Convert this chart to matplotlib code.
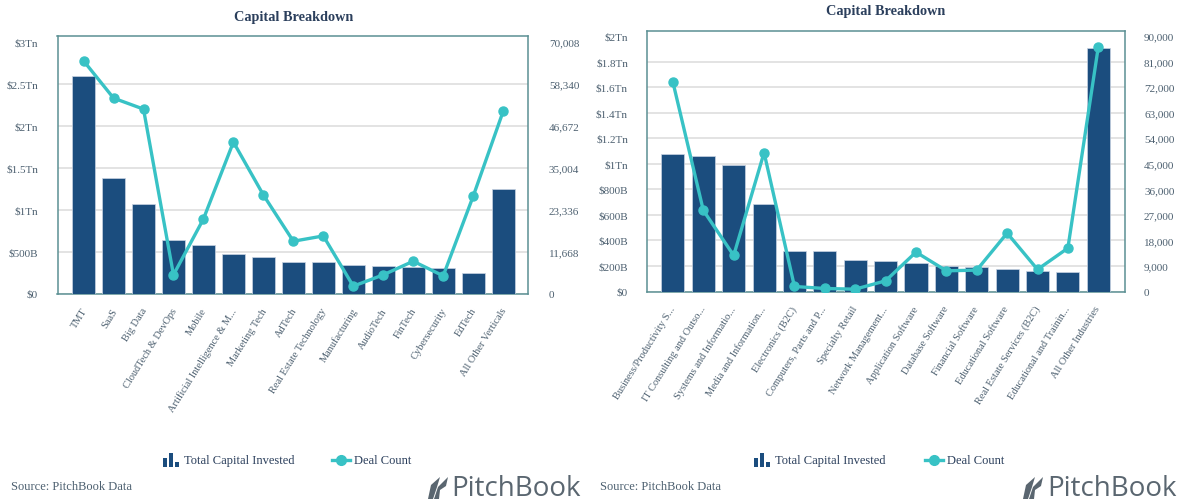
import matplotlib
matplotlib.use("Agg")
import matplotlib.pyplot as plt
from matplotlib.lines import Line2D
from matplotlib.patches import Polygon, Rectangle
from matplotlib.ticker import FixedLocator
from matplotlib.transforms import ScaledTranslation

W, H = 1178, 502

NAVY = "#1b4d7e"
TEAL = "#38c2c5"
FRAME = "#5b9093"
GRID = "#e0e0e0"
TITLE_COL = "#2b3f5c"
TICK_COL = "#4d6070"
LOGO_COL = "#5a6670"

# left chart
left_cats = ["TMT", "SaaS", "Big Data", "CloudTech & DevOps", "Mobile",
             "Artificial Intelligence & M...", "Marketing Tech", "AdTech",
             "Real Estate Technology", "Manufacturing", "AudioTech", "FinTech",
             "Cybersecurity", "EdTech", "All Other Verticals"]
left_capital = [2.595, 1.377, 1.063, 0.635, 0.583, 0.472, 0.432, 0.381,
                0.381, 0.341, 0.329, 0.313, 0.305, 0.25, 1.246]
left_deals = [64730, 54360, 51300, 5190, 20740, 42135, 27410, 14540,
              16020, 2040, 5190, 8980, 4910, 27040, 50650]
left_ticks = [0, 0.5, 1, 1.5, 2, 2.5, 3]
left_tick_labels = ["$0", "$500B", "$1Tn", "$1.5Tn", "$2Tn", "$2.5Tn", "$3Tn"]
left_deal_ticks = [0, 11668, 23336, 35004, 46672, 58340, 70008]

# right chart
right_cats = ["Business/Productivity S...", "IT Consulting and Outso...",
              "Systems and Informatio...", "Media and Information...",
              "Electronics (B2C)", "Computers, Parts and P...", "Specialty Retail",
              "Network Management...", "Application Software", "Database Software",
              "Financial Software", "Educational Software",
              "Real Estate Services (B2C)", "Educational and Trainin...",
              "All Other Industries"]
right_capital = [1.077, 1.059, 0.988, 0.682, 0.316, 0.316, 0.248, 0.235,
                 0.22, 0.2, 0.193, 0.175, 0.16, 0.149, 1.903]
right_deals = [73765, 28590, 12700, 48940, 1765, 1060, 825, 3765,
               13880, 7290, 7530, 20590, 7765, 15290, 86120]
right_ticks = [0, 0.2, 0.4, 0.6, 0.8, 1, 1.2, 1.4, 1.6, 1.8, 2]
right_tick_labels = ["$0", "$200B", "$400B", "$600B", "$800B", "$1Tn",
                     "$1.2Tn", "$1.4Tn", "$1.6Tn", "$1.8Tn", "$2Tn"]
right_deal_ticks = [0, 9000, 18000, 27000, 36000, 45000, 54000, 63000, 72000, 81000, 90000]

plt.rcParams["font.family"] = ["Liberation Serif", "DejaVu Serif"]


def fx(x):
    return x / W


def fy(y):
    return 1 - y / H


def draw_panel(fig, box, cats, capital, deals, ticks, tick_labels, deal_ticks, top, margins, pads, shift):
    left, top_px, right, bottom = box
    ax = fig.add_axes([fx(left), fy(bottom), (right - left) / W, (bottom - top_px) / H])
    xs = list(range(len(cats)))
    ax.bar(xs, capital, width=0.76, color=NAVY, edgecolor="#c9d3e2", linewidth=0.5, zorder=3)
    ax.set_xlim(-margins[0], len(cats) - 1 + margins[1])
    ax.set_ylim(0, top)
    ax.yaxis.set_major_locator(FixedLocator(ticks))
    ax.set_yticklabels(tick_labels)
    ax.grid(axis="y", color=GRID, linewidth=1.3, zorder=0)
    ax.get_ygridlines()[-1].set_visible(False)
    ax.set_axisbelow(True)
    ax.set_xticks(xs)
    ax.set_xticklabels(cats, rotation=58, ha="right", va="top", rotation_mode="anchor")
    ax.tick_params(axis="x", length=0, pad=9, labelsize=7.5, labelcolor=TICK_COL)
    ax.tick_params(axis="y", length=0, pad=pads[0], labelsize=8, labelcolor=TICK_COL)
    nudge = ScaledTranslation(shift / 100, 0, fig.dpi_scale_trans)
    for lab in ax.get_xticklabels():
        lab.set_transform(lab.get_transform() + nudge)
    for s in ax.spines.values():
        s.set_color(FRAME)
        s.set_linewidth(1.1)

    ax2 = ax.twinx()
    ax2.plot(xs, deals, color=TEAL, linewidth=2.4, marker="o", markersize=6.5, zorder=5)
    ax2.set_ylim(0, top / ticks[-1] * deal_ticks[-1])
    ax2.set_yticks(deal_ticks)
    ax2.set_yticklabels([f"{v:,}" for v in deal_ticks])
    ax2.tick_params(axis="y", length=0, pad=pads[1], labelsize=8, labelcolor=TICK_COL)
    for s in ax2.spines.values():
        s.set_visible(False)
    return ax


def add_legend(fig, icon_x, text_x, line_x, deal_x):
    for off, hgt in [(0, 9), (6, 14), (12, 5)]:
        fig.add_artist(Rectangle((fx(icon_x + off), fy(468)), 3.6 / W, hgt / H,
                                 transform=fig.transFigure, color=NAVY, lw=0))
    fig.text(fx(text_x), fy(461), "Total Capital Invested", fontsize=9, color=TITLE_COL, va="center")
    fig.add_artist(Line2D([fx(line_x), fx(line_x + 18)], [fy(461), fy(461)],
                          color=TEAL, linewidth=2.4, transform=fig.transFigure))
    fig.add_artist(Line2D([fx(line_x + 9)], [fy(461)], color=TEAL, marker="o", markersize=7,
                          transform=fig.transFigure))
    fig.text(fx(deal_x), fy(461), "Deal Count", fontsize=9, color=TITLE_COL, va="center")


def add_logo(fig, leaf_x, text_x, source_x):
    fig.text(fx(source_x), fy(487), "Source: PitchBook Data", fontsize=9, color=TICK_COL, va="center")
    # leaf mark next to the wordmark
    for pts in ([(0, 22), (3, 8), (12, 0), (9, 10), (5, 22)],
                [(6, 22), (10, 10), (20, 0), (18, 9), (12, 13), (11, 22)]):
        fig.add_artist(Polygon([(fx(leaf_x + a), fy(478 + b)) for a, b in pts],
                               closed=True, transform=fig.transFigure, color=LOGO_COL, lw=0))
    fig.text(fx(text_x), fy(489), "PitchBook", fontsize=20, family="Open Sans",
             color=LOGO_COL, va="center")


fig = plt.figure(figsize=(W / 100, H / 100), dpi=100, facecolor="white")

draw_panel(fig, (57.5, 37, 528, 294.5), left_cats, left_capital, left_deals,
           left_ticks, left_tick_labels, left_deal_ticks, 3.07, (0.87, 0.83), (14, 15), -2.5)
draw_panel(fig, (646.5, 32, 1125, 292.5), right_cats, right_capital, right_deals,
           right_ticks, right_tick_labels, right_deal_ticks, 2.04, (0.87, 0.88), (13.4, 13.7), -4)

fig.text(fx(294), fy(17), "Capital Breakdown", fontsize=10.3, fontweight="bold",
         color=TITLE_COL, ha="center", va="center")
fig.text(fx(885.5), fy(12), "Capital Breakdown", fontsize=10.3, fontweight="bold",
         color=TITLE_COL, ha="center", va="center")

add_legend(fig, 163, 184, 332, 354)
add_legend(fig, 754, 775, 925, 947)
add_logo(fig, 428, 451, 11)
add_logo(fig, 1023, 1047, 600)

fig.savefig("out.png", dpi=100)
